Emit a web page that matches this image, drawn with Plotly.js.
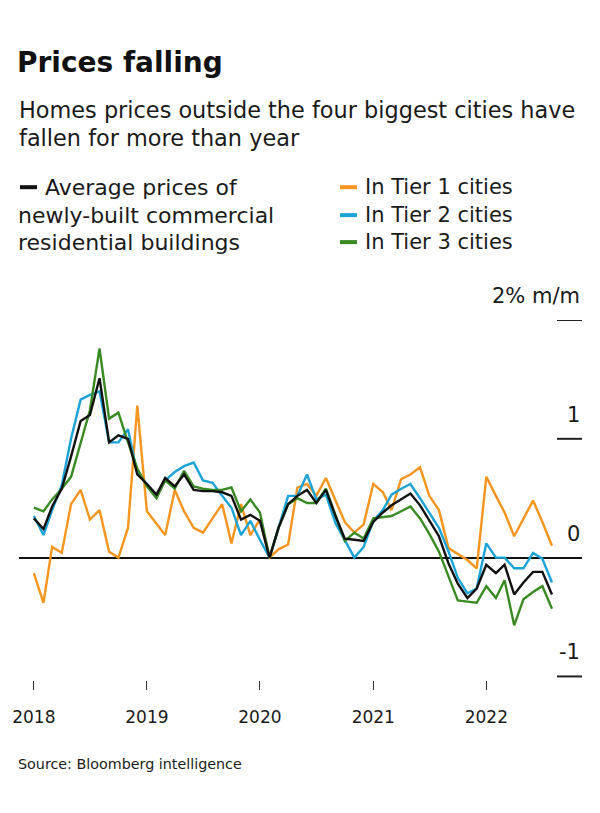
<!DOCTYPE html>
<html><head><meta charset="utf-8">
<script src="https://cdn.plot.ly/plotly-3.0.1.min.js"></script>
<style>body{margin:0;background:#fff}#chart{width:600px;height:813px}</style>
</head><body><div id="chart"></div>
<script>
const months = ['2018-01','2018-02','2018-03','2018-04','2018-05','2018-06','2018-07','2018-08','2018-09','2018-10','2018-11','2018-12',
'2019-01','2019-02','2019-03','2019-04','2019-05','2019-06','2019-07','2019-08','2019-09','2019-10','2019-11','2019-12',
'2020-01','2020-02','2020-03','2020-04','2020-05','2020-06','2020-07','2020-08','2020-09','2020-10','2020-11','2020-12',
'2021-01','2021-02','2021-03','2021-04','2021-05','2021-06','2021-07','2021-08','2021-09','2021-10','2021-11','2021-12',
'2022-01','2022-02','2022-03','2022-04','2022-05','2022-06','2022-07','2022-08'];
const avgPrices = [0.33,0.24,0.43,0.58,0.85,1.15,1.20,1.51,0.97,1.03,1.00,0.70,
0.62,0.53,0.67,0.60,0.70,0.57,0.56,0.56,0.55,0.52,0.32,0.36,
0.31,0.00,0.25,0.45,0.52,0.57,0.46,0.57,0.35,0.16,0.15,0.14,
0.30,0.38,0.44,0.49,0.54,0.44,0.31,0.18,-0.05,-0.22,-0.34,-0.26,
-0.06,-0.13,-0.06,-0.31,-0.21,-0.12,-0.12,-0.31];
const tier1 = [-0.13,-0.38,0.09,0.04,0.45,0.57,0.32,0.40,0.05,0.00,0.25,1.28,
0.39,0.29,0.19,0.57,0.39,0.25,0.21,0.33,0.45,0.12,0.45,0.19,
0.32,0.00,0.07,0.11,0.59,0.62,0.52,0.67,0.48,0.30,0.21,0.28,
0.62,0.55,0.40,0.66,0.70,0.76,0.52,0.40,0.08,0.03,-0.02,-0.09,
0.68,0.52,0.38,0.18,0.33,0.48,0.30,0.10];
const tier2 = [0.35,0.19,0.40,0.61,1.00,1.33,1.37,1.40,0.97,0.97,1.08,0.71,
0.62,0.52,0.65,0.72,0.77,0.80,0.65,0.63,0.52,0.42,0.19,0.31,
0.15,0.00,0.25,0.52,0.52,0.70,0.49,0.53,0.29,0.15,0.00,0.09,
0.31,0.40,0.53,0.58,0.62,0.50,0.38,0.25,0.05,-0.17,-0.30,-0.26,
0.12,0.00,0.00,-0.09,-0.09,0.04,-0.01,-0.21];
const tier3 = [0.42,0.39,0.49,0.58,0.68,0.96,1.24,1.76,1.17,1.22,0.97,0.75,
0.60,0.50,0.65,0.58,0.73,0.60,0.58,0.57,0.57,0.59,0.39,0.49,
0.38,0.00,0.25,0.45,0.50,0.46,0.46,0.58,0.35,0.14,0.21,0.16,
0.33,0.34,0.35,0.39,0.43,0.33,0.20,0.05,-0.15,-0.36,-0.37,-0.38,
-0.24,-0.34,-0.19,-0.57,-0.35,-0.29,-0.24,-0.43];
const yearTicks = ['2018-01-01','2019-01-01','2020-01-01','2021-01-01','2022-01-01'];
const yearLabels = ['2018','2019','2020','2021','2022'];
const yTickVals = [-1,0,1,2];
const yTickText = ['-1','0','1','2% m/m'];
const seriesNames = ['Average prices of newly-built commercial residential buildings','In Tier 1 cities','In Tier 2 cities','In Tier 3 cities'];
const colors = {avg:'#111111', t1:'#f5951f', t2:'#1ba3d6', t3:'#3a8a24'};

const L=19, R=582, T=320, B=680.5;
const px = x => (x-L)/(R-L);
const py = y => (B-y)/(B-T);
const FONT = '"DejaVu Sans", Inter, sans-serif';
const TXT = '#1a1a1a';

function line(y, name, color){
  return {x: months, y: y, name: name, type:'scatter', mode:'lines',
    line:{color: color, width:2.4}, showlegend:false, hoverinfo:'skip'};
}
const data = [
  line(tier1, seriesNames[1], colors.t1),
  line(tier2, seriesNames[2], colors.t2),
  line(tier3, seriesNames[3], colors.t3),
  line(avgPrices, seriesNames[0], colors.avg)
];

const ann = [];
function txt(x, y, s, size, opts){
  ann.push(Object.assign({xref:'paper', yref:'paper', x:px(x), y:py(y), text:s, showarrow:false,
    xanchor:'left', yanchor:'middle', font:{family:FONT, size:size, color:TXT}}, opts||{}));
}
txt(17, 110, 'Homes prices outside the four biggest cities have', 22.4);
txt(17, 138, 'fallen for more than year', 22.4);
txt(43, 187, 'Average prices of', 22);
txt(16, 215, 'newly-built commercial', 22);
txt(16, 242, 'residential buildings', 22);
txt(363, 187, 'In Tier 1 cities', 21);
txt(363, 215, 'In Tier 2 cities', 21);
txt(363, 242, 'In Tier 3 cities', 21);
txt(16, 765, 'Source: Bloomberg intelligence', 14.3);
yTickVals.forEach((v, k) => {
  ann.push({xref:'paper', yref:'y', x:1, y:v, text:yTickText[k], showarrow:false,
    xanchor:'right', yanchor:'middle', yshift:24, font:{family:FONT, size:21, color:TXT}});
});

const shapes = [];
function mark(x0, x1, y, color){
  shapes.push({type:'line', xref:'paper', yref:'paper', x0:px(x0), x1:px(x1), y0:py(y), y1:py(y),
    line:{color:color, width:4}});
}
mark(20, 37, 187, colors.avg);
mark(340, 357, 187, colors.t1);
mark(340, 357, 215, colors.t2);
mark(340, 357, 242, colors.t3);
[-1, 1, 2].forEach(v => {
  shapes.push({type:'line', xref:'paper', yref:'y', x0:px(557), x1:1, y0:v, y1:v,
    line:{color:'#222', width:2}});
});

const layout = {
  width:600, height:813,
  margin:{l:L, r:600-R, t:T, b:813-B},
  paper_bgcolor:'#fff', plot_bgcolor:'#fff',
  title:{text:'<b>Prices falling</b>', xref:'container', yref:'container', x:17/600, xanchor:'left',
    y:1-62/813, yanchor:'middle', font:{family:FONT, size:28, color:'#111'}},
  xaxis:{type:'date', range:['2017-11-14','2022-11-06'], tickvals:yearTicks, ticktext:yearLabels,
    ticks:'outside', ticklen:9, tickwidth:1, tickcolor:'#333', showgrid:false, zeroline:false, showline:false,
    tickfont:{family:FONT, size:17, color:TXT}, ticklabelstandoff:13, fixedrange:true},
  yaxis:{range:[-1.03, 2.0], side:'right', tickvals:yTickVals, showticklabels:false,
    ticks:'', showgrid:false,
    zeroline:true, zerolinecolor:'#111', zerolinewidth:2, showline:false, fixedrange:true},
  annotations: ann,
  shapes: shapes,
  showlegend:false
};
Plotly.newPlot('chart', data, layout, {displayModeBar:false, staticPlot:true});
</script>
</body></html>
